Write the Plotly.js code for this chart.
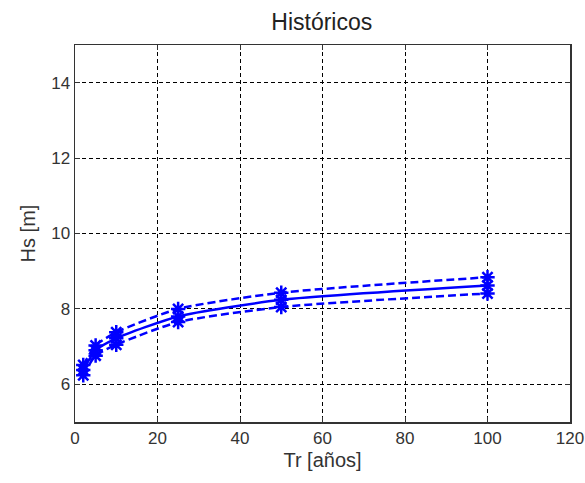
<!DOCTYPE html>
<html>
<head>
<meta charset="utf-8">
<script src="https://cdn.plot.ly/plotly-3.0.1.min.js"></script>
<style>html,body{margin:0;padding:0;background:#fff;}#chart{width:585px;height:483px;}</style>
</head>
<body>
<div id="chart"></div>
<script>
const tr = [2, 5, 10, 25, 50, 100];
const hsMid = [6.38, 6.90, 7.22, 7.80, 8.24, 8.62];
const hsUpper = [6.51, 7.03, 7.38, 8.00, 8.43, 8.84];
const hsLower = [6.24, 6.76, 7.05, 7.65, 8.05, 8.41];
const xTicks = [0, 20, 40, 60, 80, 100, 120];
const yTicks = [6, 8, 10, 12, 14];

const blue = '#0000ff';
function trace(y, dash) {
  return {
    x: tr, y: y, type: 'scatter', mode: 'lines+markers',
    line: {color: blue, width: 2.5, dash: dash, shape: 'spline', smoothing: 0.6},
    marker: {symbol: 'asterisk-open', size: 12, color: blue, line: {color: blue, width: 2.5}},
    showlegend: false, cliponaxis: false
  };
}
const data = [trace(hsUpper, '8px,4px'), trace(hsMid, 'solid'), trace(hsLower, '8px,4px')];

const font = 'Arial, Liberation Sans, sans-serif';
const axisCommon = {
  showline: true, linecolor: '#333', linewidth: 1.5, mirror: 'ticks',
  ticks: 'inside', ticklen: 5, tickcolor: '#333',
  showgrid: true, gridcolor: '#000', griddash: '4px,3px', gridwidth: 1,
  zeroline: false,
  tickfont: {family: font, size: 17, color: '#333'}
};
const layout = {
  width: 585, height: 483,
  margin: {l: 75, r: 15, t: 45, b: 61},
  paper_bgcolor: '#fff', plot_bgcolor: '#fff',
  title: {text: 'Históricos', x: 0.55, xanchor: 'center', y: 0.955, yanchor: 'middle',
          font: {family: font, size: 23, color: '#222'}},
  xaxis: Object.assign({}, axisCommon, {
    range: [0, 120], tickvals: xTicks,
    title: {text: 'Tr [años]', standoff: 6, font: {family: font, size: 20, color: '#333'}}
  }),
  yaxis: Object.assign({}, axisCommon, {
    range: [5, 15], tickvals: yTicks,
    title: {text: 'Hs [m]', standoff: 10, font: {family: font, size: 20, color: '#333'}}
  })
};
Plotly.newPlot('chart', data, layout, {staticPlot: true, displayModeBar: false});
</script>
</body>
</html>
